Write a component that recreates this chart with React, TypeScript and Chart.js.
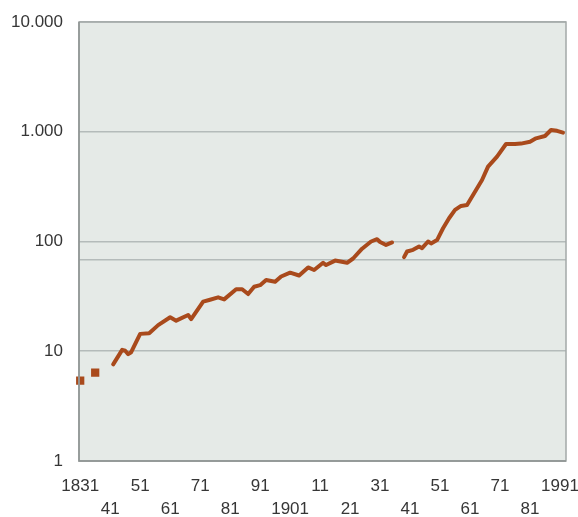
import { useEffect, useRef } from 'react';
import { Chart, registerables } from 'chart.js';

Chart.register(...registerables);

const years: number[] = [
  1831, 1833, 1836, 1838,
  1842, 1845, 1846, 1847, 1848, 1851, 1854, 1857, 1861, 1863, 1867, 1868,
  1872, 1874, 1877, 1879, 1883, 1885, 1887, 1889, 1891, 1893, 1896, 1898,
  1901, 1904, 1907, 1909, 1912, 1913, 1916, 1920, 1922, 1925, 1928, 1930,
  1931, 1933, 1935, 1937,
  1939, 1940, 1942, 1944, 1945, 1947, 1948, 1950, 1952, 1954, 1956, 1958,
  1960, 1963, 1965, 1967, 1970, 1973, 1976, 1978, 1981, 1983, 1986, 1988,
  1990, 1992,
];

const values: (number | null)[] = [
  5.4, null, 6.4, null,
  7.6, 10.3, 10.1, 9.4, 9.8, 14.4, 14.6, 17.3, 20.4, 19, 21.4, 19.6,
  28.3, 29.3, 31, 29.7, 36.7, 36.7, 33.2, 38.7, 40, 44.6, 43, 48,
  52, 49, 58, 55, 64, 61, 67, 64, 70, 86, 100, 105,
  99, 93, 98, null,
  72, 81, 84, 90, 87, 100, 96, 103, 132, 163, 194, 211,
  215, 295, 363, 481, 593, 773, 773, 780, 811, 871, 915, 1038,
  1020, 980,
];

const yTickValues: number[] = [1, 10, 100, 1000, 10000];
const yExtraGridValues: number[] = [68];
const xTickYears: number[] = [
  1831, 1841, 1851, 1861, 1871, 1881, 1891, 1901, 1911, 1921, 1931,
  1941, 1951, 1961, 1971, 1981, 1991,
];
const fullYearLabels: number[] = [1831, 1901, 1991];

function fmtThousands(v: number): string {
  return String(v).replace(/\B(?=(\d{3})+(?!\d))/g, '.');
}

export default function App() {
  const ref = useRef<HTMLCanvasElement>(null);

  useEffect(() => {
    if (!ref.current) return;
    const bgPlugin = {
      id: 'bgFrame',
      beforeDraw(chart: any) {
        const { ctx, chartArea } = chart;
        const { left, top, width, height } = chartArea;
        ctx.save();
        ctx.fillStyle = '#e5eae7';
        ctx.fillRect(left, top, width, height);
        ctx.restore();
      },
      afterDraw(chart: any) {
        const { ctx, chartArea } = chart;
        const { left, top, right, bottom } = chartArea;
        ctx.save();
        ctx.strokeStyle = '#a3a9a8';
        ctx.lineWidth = 1.5;
        ctx.strokeRect(left, top, right - left, bottom - top);
        ctx.strokeStyle = '#8e9493';
        ctx.beginPath();
        ctx.moveTo(left, top);
        ctx.lineTo(left, bottom);
        ctx.lineTo(right, bottom);
        ctx.stroke();
        ctx.restore();
      },
    };

    const data = years.map((y, i) => ({ x: y, y: values[i] }));

    const chart = new Chart(ref.current, {
      type: 'line',
      data: {
        datasets: [
          {
            data: data as any,
            borderColor: '#a94a1c',
            backgroundColor: '#a94a1c',
            borderWidth: 4,
            spanGaps: false,
            tension: 0,
            clip: false as any,
            pointRadius: (c: any) => {
              const i = c.dataIndex;
              const prev = i > 0 ? values[i - 1] : null;
              const next = i < values.length - 1 ? values[i + 1] : null;
              return prev == null && next == null && values[i] != null ? 3 : 0;
            },
            pointStyle: 'rect',
            borderCapStyle: 'round',
            borderJoinStyle: 'round',
          },
        ],
      },
      options: {
        animation: false,
        responsive: false,
        devicePixelRatio: 1,
        layout: { padding: { left: 0, right: 12, top: 22, bottom: 0 } },
        plugins: {
          legend: { display: false },
          tooltip: { enabled: false },
        },
        scales: {
          x: {
            type: 'linear',
            min: 1830.6,
            max: 1993,
            grid: { display: false, drawTicks: false },
            border: { display: false },
            afterBuildTicks: (s: any) => {
              s.ticks = xTickYears.map((v) => ({ value: v }));
            },
            afterFit: (s: any) => {
              s.height = 56;
              s.paddingLeft = 0;
              s.paddingRight = 0;
            },
            ticks: {
              autoSkip: false,
              maxRotation: 0,
              minRotation: 0,
              padding: 14,
              color: '#363636',
              font: { family: "'Liberation Sans', Arial, sans-serif", size: 17, lineHeight: 23 / 17 },
              callback: (value: any, index: number) => {
                const v = Number(value);
                const lbl = fullYearLabels.includes(v) ? String(v) : String(v % 100).padStart(2, '0');
                return index % 2 === 0 ? [lbl, ''] : ['', lbl];
              },
            },
          },
          y: {
            type: 'logarithmic',
            min: 1,
            max: 10000,
            grid: { color: '#b4bbba', lineWidth: 1.6, drawTicks: false },
            border: { display: false },
            afterBuildTicks: (s: any) => {
              s.ticks = [...yTickValues, ...yExtraGridValues]
                .sort((a, b) => a - b)
                .map((v) => ({ value: v }));
            },
            afterFit: (s: any) => {
              s.width = 79;
              s.paddingTop = 0;
              s.paddingBottom = 0;
            },
            ticks: {
              autoSkip: false,
              padding: 16,
              color: '#363636',
              font: { family: "'Liberation Sans', Arial, sans-serif", size: 17 },
              callback: (value: any) => {
                const v = Number(value);
                return yTickValues.includes(v) ? fmtThousands(v) : '';
              },
            },
          },
        },
      },
      plugins: [bgPlugin],
    });

    return () => chart.destroy();
  }, []);

  return (
    <div style={{ position: 'fixed', left: 0, top: 0, width: 578, height: 517, background: '#ffffff' }}>
      <canvas ref={ref} width={578} height={517} style={{ display: 'block' }} />
    </div>
  );
}
